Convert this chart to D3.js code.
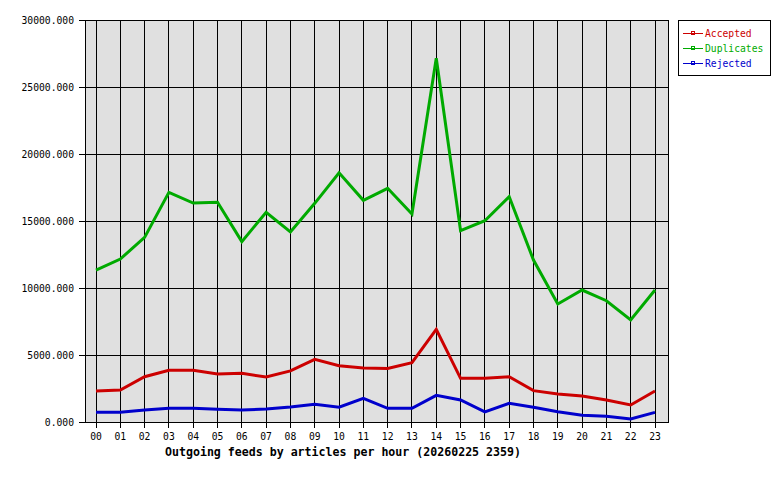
<!DOCTYPE html>
<html><head><meta charset="utf-8">
<script src="https://cdn.jsdelivr.net/npm/d3@7"></script>
<style>body{margin:0;background:#fff}text{font-family:"DejaVu Sans Mono",monospace}</style>
</head><body>
<svg id="c" width="780" height="480"></svg>
<script>
const hours = ["00","01","02","03","04","05","06","07","08","09","10","11","12","13","14","15","16","17","18","19","20","21","22","23"];
const accepted = [2310,2390,3380,3860,3860,3580,3630,3360,3810,4680,4200,4030,4000,4430,6920,3260,3260,3380,2340,2090,1940,1640,1270,2310];
const duplicates = [11340,12160,13780,17140,16340,16400,13460,15650,14180,16320,18600,16540,17440,15520,27140,14280,15020,16810,12090,8810,9850,9050,7610,9850];
const rejected = [720,720,900,1020,1020,950,900,970,1120,1320,1100,1770,1020,1020,1990,1640,750,1400,1100,770,500,430,220,720];
const yTicks = [0,5000,10000,15000,20000,25000,30000];
const seriesNames = ["Accepted","Duplicates","Rejected"];
const seriesColors = ["#cc0000","#00aa00","#0000cc"];
const title = "Outgoing feeds by articles per hour (20260225 2359)";

const svg = d3.select("#c");
const L = 85, R = 668, T = 20, B = 422;
const x = d3.scalePoint().domain(hours).range([96, 655]);
const y = d3.scaleLinear().domain([0, 30000]).range([B, T]);

svg.append("rect").attr("x", L).attr("y", T).attr("width", R - L).attr("height", B - T).attr("fill", "#e0e0e0");

// grid
svg.append("g").selectAll("line").data(hours).join("line")
  .attr("x1", d => x(d)).attr("x2", d => x(d)).attr("y1", T).attr("y2", B + 6)
  .attr("stroke", "#000").attr("shape-rendering", "crispEdges");
svg.append("g").selectAll("line").data(yTicks).join("line")
  .attr("x1", L - 6).attr("x2", R).attr("y1", d => Math.round(y(d)) + 0.5).attr("y2", d => Math.round(y(d)) + 0.5)
  .attr("stroke", "#000").attr("shape-rendering", "crispEdges");
svg.append("rect").attr("x", L + 0.5).attr("y", T + 0.5).attr("width", R - L).attr("height", B - T)
  .attr("fill", "none").attr("stroke", "#000").attr("shape-rendering", "crispEdges");

// axes labels
svg.append("g").selectAll("text").data(yTicks).join("text")
  .attr("x", 74).attr("y", d => y(d) + 4).attr("text-anchor", "end")
  .attr("font-size", "9.7px").text(d => d3.format(".3f")(d));
svg.append("g").selectAll("text").data(hours).join("text")
  .attr("x", d => x(d)).attr("y", 440).attr("text-anchor", "middle")
  .attr("font-size", "9.7px").text(d => d);
svg.append("text").attr("x", 343).attr("y", 456).attr("text-anchor", "middle")
  .attr("font-size", "11.6px").attr("font-weight", "bold").text(title);

// lines
const data = [accepted, duplicates, rejected];
const line = d3.line().x((d, i) => x(hours[i])).y(d => y(d));
[1, 0, 2].forEach(k => {
  svg.append("path").datum(data[k]).attr("d", line).attr("fill", "none")
    .attr("stroke", seriesColors[k]).attr("stroke-width", 3).attr("stroke-linejoin", "miter");
});

// legend
const lg = svg.append("g");
lg.append("rect").attr("x", 678.5).attr("y", 20.5).attr("width", 92).attr("height", 55)
  .attr("fill", "#fff").attr("stroke", "#000").attr("shape-rendering", "crispEdges");
seriesNames.forEach((n, i) => {
  const yy = 33 + i * 15;
  lg.append("line").attr("x1", 683).attr("x2", 703).attr("y1", yy + 0.5).attr("y2", yy + 0.5)
    .attr("stroke", seriesColors[i]).attr("shape-rendering", "crispEdges");
  lg.append("rect").attr("x", 691.5).attr("y", yy - 1.5).attr("width", 3).attr("height", 3)
    .attr("fill", "none").attr("stroke", seriesColors[i]).attr("shape-rendering", "crispEdges");
  lg.append("text").attr("x", 705).attr("y", yy + 4).attr("font-size", "9.7px")
    .attr("fill", seriesColors[i]).text(n);
});
</script>
</body></html>
